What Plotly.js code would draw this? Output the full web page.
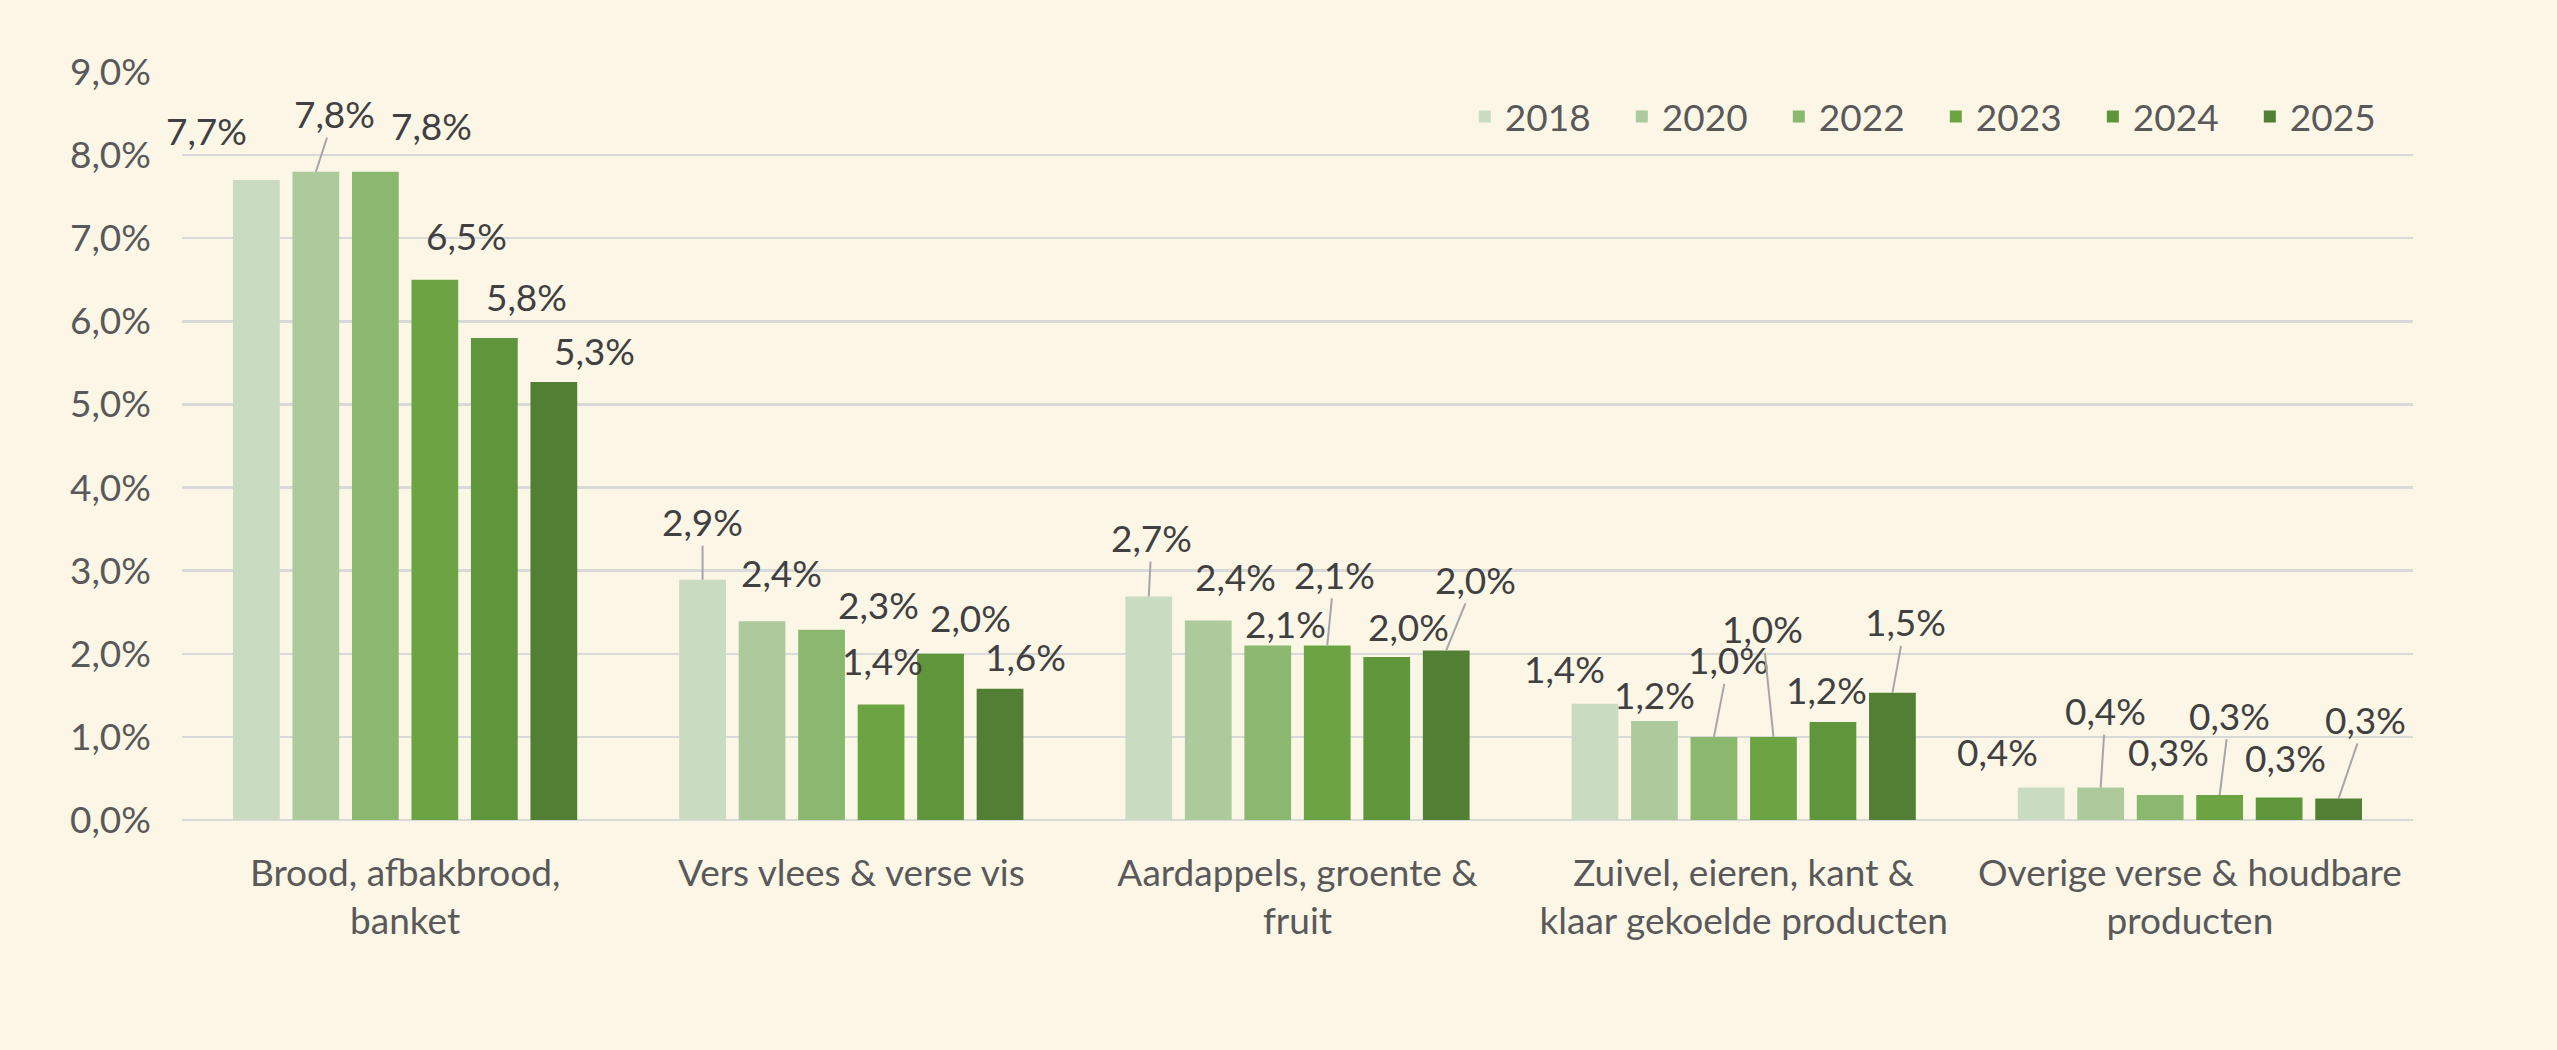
<!DOCTYPE html>
<html>
<head>
<meta charset="utf-8">
<script src="https://cdn.plot.ly/plotly-3.0.1.min.js"></script>
<style>
  html, body { margin: 0; padding: 0; background: #FCF6E7; }
  #chart { width: 2557px; height: 1050px; }
</style>
</head>
<body>
<div id="chart"></div>
<script>
var categories = [
    "Brood, afbakbrood,<br>banket",
    "Vers vlees & verse vis",
    "Aardappels, groente &<br>fruit",
    "Zuivel, eieren, kant &<br>klaar gekoelde producten",
    "Overige verse & houdbare<br>producten"
];
var years = ["2018", "2020", "2022", "2023", "2024", "2025"];

var v2018 = [7.7, 2.89, 2.69, 1.4, 0.39];
var v2020 = [7.8, 2.39, 2.4, 1.19, 0.39];
var v2022 = [7.8, 2.29, 2.1, 1.0, 0.3];
var v2023 = [6.5, 1.39, 2.1, 1.0, 0.3];
var v2024 = [5.8, 2.0, 1.96, 1.18, 0.27];
var v2025 = [5.27, 1.58, 2.04, 1.53, 0.26];
var series = [v2018, v2020, v2022, v2023, v2024, v2025];

var colors = ["#C9DBC1", "#ADCA9D", "#8AB86F", "#6CA443", "#5F953B", "#517F33"];

// where the data labels were dragged to (px from bar top) and which have a leader line
var labelDx = [
    [-50, 0, 3, -30, -44],
    [19, 19, 27, 0, 5],
    [56, 57, 18, 15, 8],
    [32, 1, 7, -11, 10],
    [32, 30, 22, -6, 6],
    [41, 25, 29, 13, 27]
];
var labelDy = [
    [-50, -58, -59, -35, -36],
    [-58, -49, -44, -27, -77],
    [-46, -25, -22, -77, -44],
    [-44, -44, -71, -108, -80],
    [-41, -36, -31, -32, -40],
    [-32, -32, -71, -71, -79]
];
var leader = [
    [0, 1, 1, 0, 0],
    [1, 0, 0, 0, 1],
    [0, 0, 0, 1, 0],
    [0, 0, 1, 1, 1],
    [0, 0, 0, 0, 0],
    [0, 0, 1, 1, 1]
];

var bargap = 0.2;
var slot = (1 - bargap) / years.length;
var font = "Lato, 'Open Sans', sans-serif";

var data = [];
var annotations = [];
for (var s = 0; s < years.length; s++) {
    data.push({
        type: 'bar',
        name: years[s],
        x: categories,
        y: series[s],
        marker: {color: colors[s]},
        hoverinfo: 'none'
    });
    for (var g = 0; g < categories.length; g++) {
        var val = series[s][g];
        annotations.push({
            xref: 'x', yref: 'y',
            x: g + (s - (years.length - 1) / 2) * slot,
            y: val,
            text: val.toFixed(1).replace('.', ',') + '%',
            showarrow: true,
            arrowhead: 0,
            arrowwidth: 2,
            arrowcolor: leader[s][g] ? '#A6A6A6' : 'rgba(0,0,0,0)',
            standoff: 0,
            ax: labelDx[s][g],
            ay: labelDy[s][g],
            font: {family: font, size: 37, color: '#404040'}
        });
    }
}

var layout = {
    width: 2557,
    height: 1050,
    paper_bgcolor: '#FCF6E7',
    plot_bgcolor: '#FCF6E7',
    font: {family: font, size: 37, color: '#595959'},
    separators: ',.',
    barmode: 'group',
    bargap: bargap,
    bargroupgap: 0.214,
    margin: {l: 182, r: 144, t: 72, b: 230, autoexpand: false},
    showlegend: true,
    legend: {
        orientation: 'h',
        x: 0.575, xanchor: 'left',
        y: 0.94, yanchor: 'middle',
        bgcolor: 'rgba(0,0,0,0)',
        font: {family: font, size: 37, color: '#595959'},
        entrywidth: 112,
        entrywidthmode: 'pixels',
        traceorder: 'normal'
    },
    xaxis: {
        type: 'category',
        range: [-0.5, categories.length - 0.5],
        automargin: false,
        showgrid: false,
        showline: false,
        ticks: '',
        ticklabelstandoff: 28,
        tickfont: {family: font, size: 37, color: '#595959'}
    },
    yaxis: {
        automargin: false,
        range: [0, 9],
        dtick: 1,
        tickformat: '.1f',
        ticksuffix: '%',
        showgrid: true,
        gridcolor: '#D9D9D9',
        gridwidth: 2.5,
        zeroline: true,
        zerolinecolor: '#D9D9D9',
        zerolinewidth: 2.5,
        ticks: '',
        ticklabelstandoff: 30,
        tickfont: {family: font, size: 37, color: '#595959'}
    },
    annotations: annotations
};

Plotly.newPlot('chart', data, layout, {displayModeBar: false, staticPlot: true});
</script>
</body>
</html>
